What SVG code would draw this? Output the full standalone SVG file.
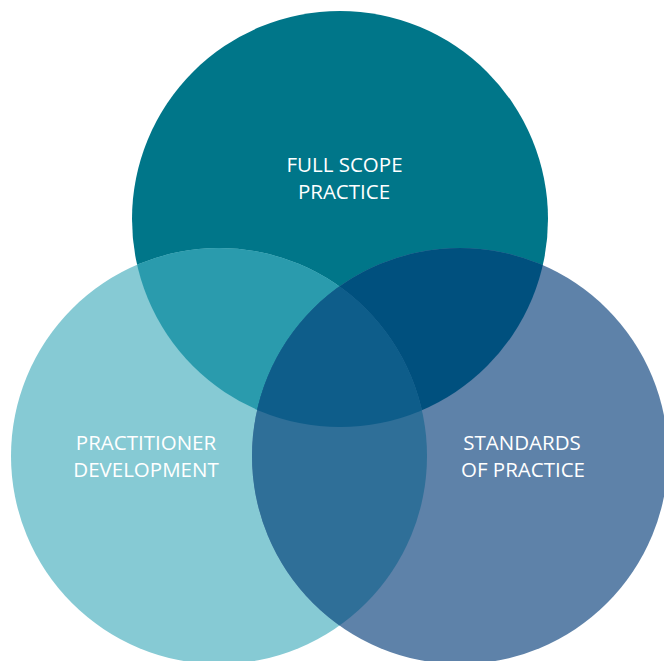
<svg xmlns="http://www.w3.org/2000/svg" width="664" height="661" viewBox="0 0 664 661">
<style>
.lbl{font-family:"Open Sans","Liberation Sans",sans-serif;font-size:20.5px;fill:#ffffff;text-anchor:middle}
</style>
<defs>
<clipPath id="cTop"><circle cx="340" cy="219" r="208"/></clipPath>
<clipPath id="cLeft"><circle cx="219" cy="456" r="208"/></clipPath>
<clipPath id="cRight"><circle cx="460" cy="456" r="208"/></clipPath>
</defs>
<rect width="664" height="661" fill="#ffffff"/>
<g id="full-scope-practice">
<circle cx="340" cy="219" r="208" fill="#007689"/>
<text class="lbl" x="344.5" y="172">FULL SCOPE</text>
<text class="lbl" x="344" y="198.5">PRACTICE</text>
</g>
<g id="practitioner-development">
<circle cx="219" cy="456" r="208" fill="#86CAD4"/>
<text class="lbl" x="146" y="450">PRACTITIONER</text>
<text class="lbl" x="146" y="477">DEVELOPMENT</text>
</g>
<g id="standards-of-practice">
<circle cx="460" cy="456" r="208" fill="#5E82A9"/>
<text class="lbl" x="522" y="450">STANDARDS</text>
<text class="lbl" x="523" y="477">OF PRACTICE</text>
</g>
<g id="overlaps">
<circle cx="219" cy="456" r="208" fill="#2A9BAD" clip-path="url(#cTop)"/>
<circle cx="460" cy="456" r="208" fill="#00507E" clip-path="url(#cTop)"/>
<circle cx="460" cy="456" r="208" fill="#2F6F98" clip-path="url(#cLeft)"/>
<g clip-path="url(#cTop)"><circle cx="460" cy="456" r="208" fill="#0E5D8A" clip-path="url(#cLeft)"/></g>
</g>
</svg>
